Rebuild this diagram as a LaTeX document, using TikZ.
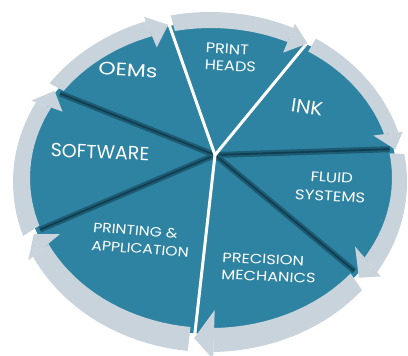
\documentclass[tikz,border=0pt]{standalone}
\usepackage{fontspec}
\setmainfont{Poppins}
\usetikzlibrary{calc}
\definecolor{wheelTeal}{RGB}{45,131,161}
\definecolor{wheelRing}{RGB}{201,211,219}
\definecolor{wheelGroove}{RGB}{30,92,116}
\definecolor{wheelGrooveCore}{RGB}{16,62,82}

\begin{document}
\begin{tikzpicture}[x=1pt, y=-1pt,
    ring/.style={fill=wheelRing},
    groove/.style={line width=6pt, wheelGroove},
    seam/.style={line width=3pt, white, line cap=round},
    lbl/.style={text=white, inner sep=0pt, align=left}]
  \useasboundingbox (0,0) rectangle (408,356);
  % disc
  \fill[wheelTeal] plot[domain=0:360, samples=90] ({211+186*cos(\x)},{178+156*sin(\x)}) -- cycle;
  \coordinate (hub) at (215,155);
  \foreach \t [count=\i] in {349,398,520,574} {
    \coordinate (g\i) at ({211+182*cos(\t)},{178+151*sin(\t)});
    \draw[groove] (hub) -- (g\i);
    \draw[line width=1.8pt, wheelGrooveCore] (hub) -- (g\i);
  }
  \foreach \t [count=\i] in {257,301,455} {
    \coordinate (s\i) at ({211+190*cos(\t)},{178+160*sin(\t)});
    \draw[seam] (hub) -- (s\i);
  }
  % ring with arrows
  \foreach \a/\b in {257/301, 301/349, 349/398, 398/455, 455/520, 520/574, 574/617} {
    \fill[ring] plot[domain=\a+1.5:\b-6, samples=20] ({210+197*cos(\x)},{182+170*sin(\x)})
      -- plot[domain=\b-6:\a+1.5, samples=20] ({211+181*cos(\x)},{178+150*sin(\x)}) -- cycle;
    \coordinate (bi) at ({211+181*cos(\b-6)},{178+150*sin(\b-6)});
    \coordinate (bo) at ({210+197*cos(\b-6)},{182+170*sin(\b-6)});
    \coordinate (ti) at ({211+181*cos(\b)},{178+150*sin(\b)});
    \coordinate (to) at ({210+197*cos(\b)},{182+170*sin(\b)});
    \fill[ring] ($(bi)!-0.75!(bo)$) -- ($(bi)!1.3!(bo)$) -- ($(ti)!0.45!(to)$) -- cycle;
  }
  % labels
  \node[lbl, font=\fontsize{18}{20}\selectfont, xscale=1.22, rotate=-3] (oems) at (128,70) {OEMs};
  \node[lbl, font=\fontsize{14}{17}\selectfont, xscale=1.15, rotate=-3, anchor=north west] (heads) at (206,43) {PRINT\\HEADS};
  \node[lbl, font=\fontsize{19}{21}\selectfont, xscale=1.08, rotate=-8] (ink) at (307,107) {INK};
  \node[lbl, font=\fontsize{14}{19}\selectfont, xscale=1.18, align=center, rotate=-4] (fluid) at (331,187) {FLUID\\SYSTEMS};
  \node[lbl, font=\fontsize{19}{21}\selectfont, rotate=-2] (soft) at (100,152) {SOFTWARE};
  \node[lbl, font=\fontsize{13.5}{18}\selectfont, xscale=1.16, rotate=-5] (print) at (141,240) {PRINTING \&\\APPLICATION};
  \node[lbl, font=\fontsize{13.5}{17}\selectfont, xscale=1.2, rotate=-3] (prec) at (269,268) {PRECISION\\MECHANICS};
\end{tikzpicture}
\end{document}
